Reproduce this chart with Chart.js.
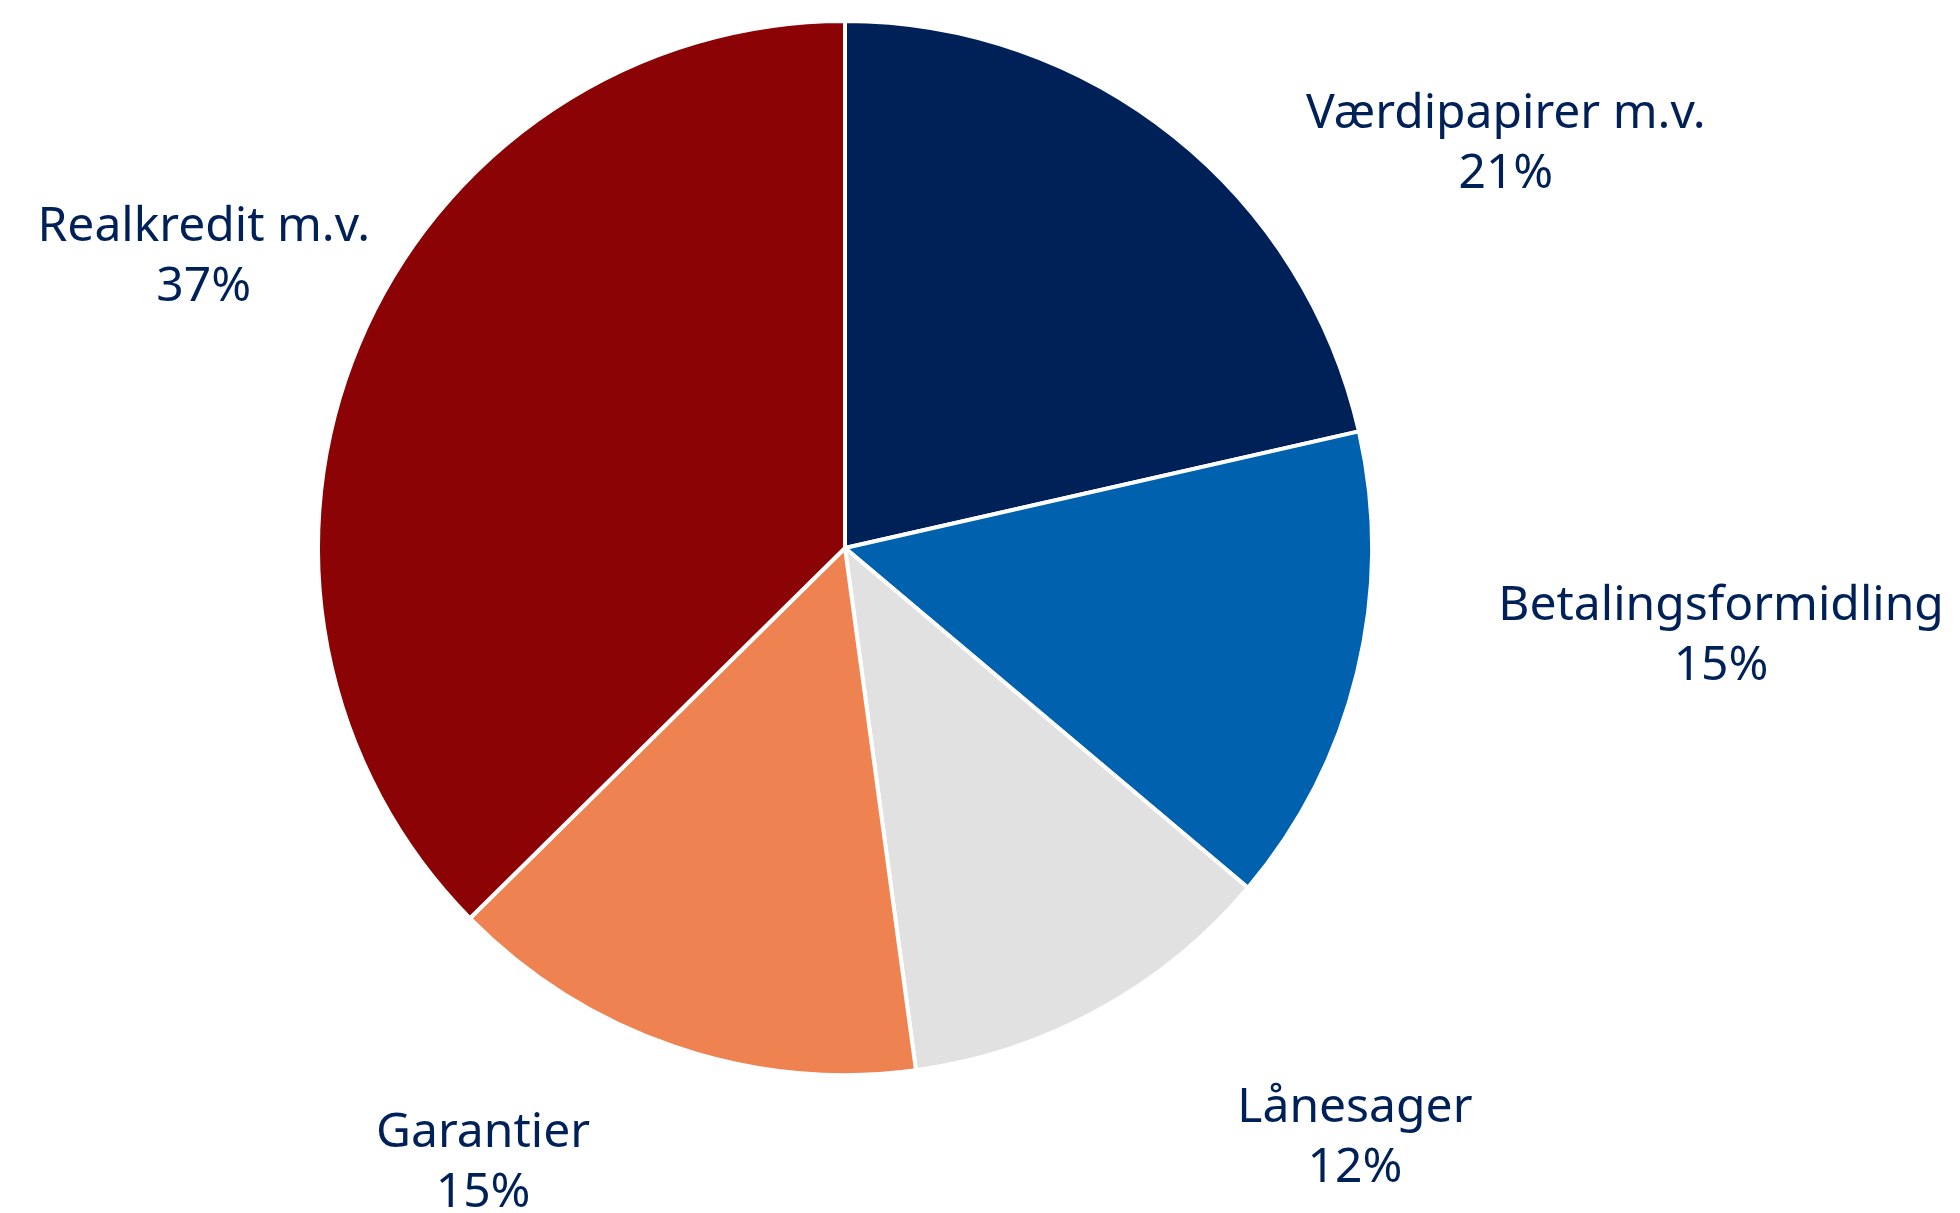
<!DOCTYPE html>
<html>
<head>
<meta charset="utf-8">
<script src="https://cdn.jsdelivr.net/npm/chart.js@4.4.0/dist/chart.umd.min.js"></script>
<style>
    html, body { margin: 0; padding: 0; background: #ffffff; }
    #wrap { width: 1960px; height: 1213px; position: relative; }
</style>
</head>
<body>
<div id="wrap"><canvas id="pie"></canvas></div>
<script>
// Data (andele i pct.)
const categories = ['Værdipapirer m.v.', 'Betalingsformidling', 'Lånesager', 'Garantier', 'Realkredit m.v.'];
const shares = [21.45, 14.7, 11.7, 14.75, 37.4];
const sliceColors = ['#002157', '#0061af', '#e1e1e1', '#ee8250', '#8b0304'];

// label offsets from the arc's outer edge point (mid angle)
const labelNudge = [[332, 5], [364, -40], [256, 125], [-192, 113], [-155, -91]];

const textColor = '#002157';
const labelFont = "48px 'Noto Sans', sans-serif";

const outsideLabels = {
    id: 'outsideLabels',
    afterDatasetsDraw(chart) {
        const ctx = chart.ctx;
        const meta = chart.getDatasetMeta(0);
        ctx.save();
        ctx.font = labelFont;
        ctx.fillStyle = textColor;
        ctx.textAlign = 'center';
        ctx.textBaseline = 'alphabetic';
        meta.data.forEach((arc, i) => {
            const p = arc.getProps(['x', 'y', 'startAngle', 'endAngle', 'outerRadius'], true);
            const mid = (p.startAngle + p.endAngle) / 2;
            const bx = p.x + Math.cos(mid) * p.outerRadius;
            const by = p.y + Math.sin(mid) * p.outerRadius;
            const cx = bx + labelNudge[i][0];
            const cy = by + labelNudge[i][1];
            ctx.fillText(categories[i], cx, cy - 13);
            ctx.fillText(Math.round(shares[i]) + '%', cx, cy + 47);
        });
        ctx.restore();
    }
};

new Chart(document.getElementById('pie'), {
    type: 'pie',
    data: {
        labels: categories,
        datasets: [{
            data: shares,
            backgroundColor: sliceColors,
            borderColor: '#ffffff',
            borderWidth: 4
        }]
    },
    options: {
        responsive: true,
        maintainAspectRatio: false,
        animation: false,
        layout: {
            padding: { top: 19, bottom: 136, left: 0, right: 270 }
        },
        plugins: {
            legend: { display: false },
            tooltip: { enabled: false }
        }
    },
    plugins: [outsideLabels]
});
</script>
</body>
</html>
